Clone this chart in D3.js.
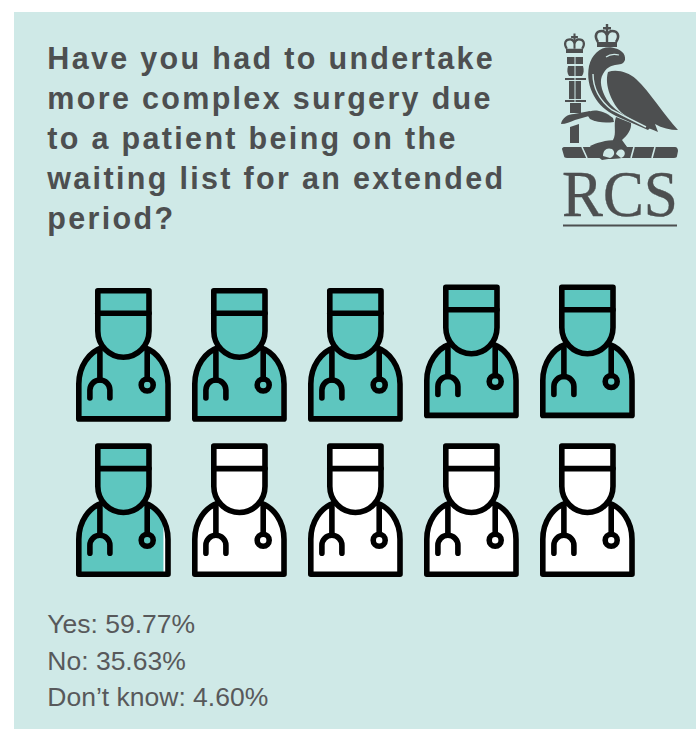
<!DOCTYPE html>
<html><head><meta charset="utf-8">
<script src="https://cdn.jsdelivr.net/npm/d3@7"></script>
<style>html,body{margin:0;padding:0;background:#fff}svg{display:block}</style>
</head><body><div id="c"></div>
<script>
const titleLines=["Have you had to undertake","more complex surgery due","to a patient being on the","waiting list for an extended","period?"];
const categories=["Yes","No","Don\u2019t know"];
const values=[59.77,35.63,4.60];
const valueLabels=["59.77%","35.63%","4.60%"];
const iconCols=[0,1,2,3,4,0,1,2,3,4];
const iconRows=[0,0,0,0,0,1,1,1,1,1];
const rowOffsets=[0,0,0,-3.5,-3.5,0,0,0,0,0];

const W=700,H=729;
const svg=d3.select("#c").append("svg").attr("width",W).attr("height",H);
const dark="#4d4f50",teal="#5ec6bf",bg="#cfe9e7";
svg.append("rect").attr("x",14).attr("y",12).attr("width",682).attr("height",717).attr("fill",bg);

const t=svg.append("g").attr("font-family","'Liberation Sans',Arial,sans-serif").attr("font-weight",700).attr("font-size",30.5).attr("letter-spacing",2.32).attr("fill",dark);
const yTitle=d3.scaleLinear().domain([0,4]).range([69,229]);
t.selectAll("text").data(titleLines).join("text").attr("x",47.3).attr("y",(d,i)=>yTitle(i)).text(d=>d);

const xCol=d3.scaleLinear().domain([0,4]).range([123.4,587.4]);
const yRow=d3.scaleLinear().domain([0,1]).range([288,443.3]);
const perIcon=10;
const sw=5.6;
const head="M-25.6,2.8H25.6V43A25.6,26.2 0 0 1 -25.6,43Z";
const shoulders="M-22,60C-34,64 -44.6,78 -44.6,96V130.9H44.6V96C44.6,78 34,64 22,60";
const shouldersFill="M22,60C34,64 44.6,78 44.6,96V130.9H-44.6V96C-44.6,78 -34,64 -22,60Z";
const innerX=d3.scaleLinear().domain([0,1]).range([-42,42]);
const defs=svg.append("defs");
const icons=svg.selectAll("g.icon").data(iconCols.map((c,i)=>({c,r:iconRows[i],o:rowOffsets[i],i}))).join("g").attr("class","icon")
 .attr("transform",d=>`translate(${xCol(d.c)},${yRow(d.r)+d.o})`);
icons.each(function(d){
  const g=d3.select(this);
  const frac=Math.max(0,Math.min(1,values[0]/perIcon-d.i));
  const fillShape=head+shouldersFill;
  g.append("path").attr("d",fillShape).attr("fill","#fff");
  if(frac>0){
    const id="clip"+d.i;
    defs.append("clipPath").attr("id",id).append("rect").attr("x",-60).attr("y",-5).attr("width",innerX(frac)+60).attr("height",150);
    g.append("path").attr("d",fillShape).attr("fill",teal).attr("clip-path",`url(#${id})`);
  }
  const s=g.append("g").attr("fill","none").attr("stroke","#000").attr("stroke-width",sw).attr("stroke-linejoin","round").attr("stroke-linecap","round");
  s.append("path").attr("d",shoulders);
  s.append("path").attr("d",head);
  s.append("path").attr("d","M-25.6,25.3H25.6");
  s.append("path").attr("d","M-23.5,62V92");
  s.append("path").attr("d","M-33.5,110V102A10,10 0 0 1 -13.5,102V110");
  s.append("path").attr("d","M23.8,62V91");
  s.append("circle").attr("cx",23.8).attr("cy",97).attr("r",6);
});

const lg=svg.append("g").attr("font-family","'Liberation Sans',Arial,sans-serif").attr("font-size",26.5).attr("fill","#58595b");
const yLeg=d3.scaleLinear().domain([0,2]).range([633.3,706]);
lg.selectAll("text").data(categories).join("text").attr("x",47.3).attr("y",(d,i)=>yLeg(i)).text((d,i)=>d+": "+valueLabels[i]);

// logo
const logo=svg.append("g").attr("fill",dark);
logo.append("text").attr("x",562).attr("y",215.5).attr("font-family","'Liberation Serif',serif").attr("font-size",66).attr("textLength",116).attr("lengthAdjust","spacingAndGlyphs").attr("stroke",dark).attr("stroke-width",0.4).text("RCS");
logo.append("rect").attr("x",563).attr("y",224.5).attr("width",114).attr("height",2);
// head, neck and back crescent
logo.append("path").attr("d","M625,60C626,53 620,49 612,47.5C601,46 592,54 589,66C587,77 589,87 594,96C599,105 606,111 616,116L648,130L650,128C634,121 616,113 607,100C601,90 599,80 603,74C606,68 610,66 615,65C620,64 623,65 625,60Z");
// wing
logo.append("path").attr("d","M608,72C617,69 628,72 636,79C650,92 664,115 678,130C670,130 662,128 655,124L658,132C648,128 632,121 622,113C612,104 604,85 608,72Z");
// light stripe in back
logo.append("path").attr("d","M593,74C593,88 599,100 612,110L646,127").attr("fill","none").attr("stroke",bg).attr("stroke-width",1.4);
// eye line
logo.append("path").attr("d","M606,57C610,54 615,54 619,55").attr("fill","none").attr("stroke",bg).attr("stroke-width",1.2);
// thigh
logo.append("path").attr("d","M616,117L631,123C632,129 627,136 622,140L627,147H612L613,140C617,134 613,124 616,117Z");
// arm
logo.append("path").attr("d","M586,113C592,109 602,109 613,118L614,122C606,123 598,123 590,119Z");
// sword guard
logo.append("path").attr("d","M561,124C562,118 568,114 574,114L590,111L589,116L575,120C570,122 566,124 561,124Z");
logo.append("path").attr("d","M570,127L579,124V143H570Z");
// mace
logo.append("path").attr("d","M567,57H583V64H567ZM568,66H583C584,70 584,73 582,76H569C567,73 567,70 568,66ZM565,78H586V80H565ZM569,81H581V99H569ZM565,100H586V102H565ZM570,103H581V113H570Z");
logo.append("path").attr("d","M575,55V102").attr("stroke",bg).attr("stroke-width",1);
// crowns
const crown=[[607,1],[574.5,0.85]];
crown.forEach(([cx,k])=>{
  const base=cx===607?47:53;
  const c=logo.append("g").attr("transform",`translate(${cx},${base}) scale(${k})`);
  c.append("path").attr("d","M-9,-5C-13,-11 -11,-16 -5,-16C-2,-16 -1,-14 0,-12C1,-14 2,-16 5,-16C11,-16 13,-11 9,-5").attr("fill","none").attr("stroke",dark).attr("stroke-width",2.6);
  c.append("path").attr("d","M0,-14V-5").attr("stroke",dark).attr("stroke-width",2.4);
  c.append("path").attr("d","M-10,-5H10V0H-10Z");
  c.append("path").attr("d","M-1.2,-20H-4V-17.5H-1.2V-14H1.2V-17.5H4V-20H1.2V-23H-1.2Z");
});
// perch
logo.append("path").attr("d","M564,147H675C677,147 678,149 678,151L677,156C677,157 676,158 674,158H567C565,158 564,157 564,156L562,149C562,148 563,147 564,147Z");
logo.append("path").attr("d","M582,147L587,158M612,147L607,158M634,147L631,158M655,147L652,158").attr("stroke",bg).attr("stroke-width",1.6).attr("fill","none");
// talons
logo.append("path").attr("d","M590,146C596,143 606,140 616,140C624,142 630,148 628,156C620,160 610,158 602,160C596,156 592,150 590,146Z");
logo.append("path").attr("d","M603,156C603,150 607,147 612,149C616,152 614,157 610,158ZM616,154C617,150 621,148 624,151C626,154 624,157 621,158Z").attr("fill",bg);
</script></body></html>
